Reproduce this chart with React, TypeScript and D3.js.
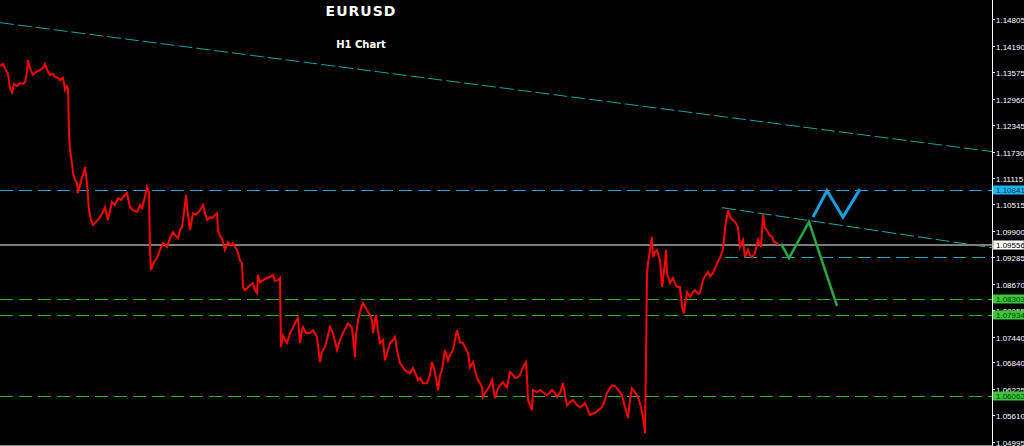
import React from "react";
import * as d3 from "d3";

// Chart data: hourly bar index and close price (EURUSD H1)
const bars = [0,3,6,8,10,12,14,17,20,23,25,27,28,30,33,36,40,43,45,48,50,53,55,58,60,63,65,67,68,69,70,72,73,75,77,78,80,82,84,85,87,89,91,93,96,100,103,105,108,110,112,115,118,121,124,127,130,133,137,140,142,145,147,149,150,151,154,157,160,163,167,170,173,176,178,180,182,184,186,188,190,193,196,200,203,205,207,210,212,215,217,218,220,222,225,228,231,233,235,237,240,242,243,245,247,250,253,255,257,258,260,263,267,270,273,275,278,280,281,283,285,287,290,293,295,298,300,302,303,306,310,313,317,320,322,325,328,330,333,337,340,343,346,348,352,355,356,358,361,363,367,370,372,373,376,378,380,383,385,388,390,393,395,397,400,403,405,408,410,413,416,418,420,423,427,430,432,435,438,440,442,445,448,450,453,455,457,460,463,465,468,470,473,475,477,480,482,483,485,487,490,492,495,498,500,503,505,507,510,513,515,518,520,523,526,527,528,530,532,533,537,540,543,547,550,552,555,557,560,563,565,567,570,573,577,580,583,585,588,590,593,595,598,602,605,607,610,612,615,617,620,622,625,628,630,632,635,637,640,643,645,646,647,648,650,652,653,655,657,660,662,663,665,666,667,670,673,675,677,680,682,684,685,687,690,693,695,698,700,703,705,708,710,713,715,717,720,723,725,728,730,733,735,738,740,743,745,748,750,752,755,758,761,763,765,768,770,772,774,777,778];
const closes = [1.1372,1.1376,1.1362,1.1353,1.1320,1.1311,1.1330,1.1325,1.1332,1.1330,1.1334,1.1358,1.1385,1.1367,1.1351,1.1358,1.1362,1.1367,1.1376,1.1358,1.1351,1.1353,1.1346,1.1344,1.1339,1.1344,1.1316,1.1325,1.1320,1.1216,1.1177,1.1146,1.1123,1.1107,1.1100,1.1077,1.1095,1.1114,1.1126,1.1137,1.1100,1.1037,1.1014,1.1003,1.1010,1.1021,1.1033,1.1044,1.1014,1.1037,1.1056,1.1049,1.1065,1.1061,1.1070,1.1077,1.1044,1.1037,1.1033,1.1049,1.1042,1.1068,1.1091,1.1077,1.0945,1.0898,1.0917,1.0926,1.0945,1.0961,1.0952,1.0972,1.0986,1.0977,1.0972,1.0991,1.0998,1.1033,1.1072,1.1026,1.0991,1.1030,1.1026,1.1037,1.1049,1.1030,1.1014,1.1021,1.1019,1.1026,1.1030,1.0991,1.0977,1.0972,1.0945,1.0963,1.0956,1.0961,1.0952,1.0945,1.0921,1.0914,1.0859,1.0852,1.0856,1.0863,1.0868,1.0852,1.0845,1.0887,1.0870,1.0875,1.0880,1.0882,1.0887,1.0873,1.0875,1.0880,1.0720,1.0747,1.0736,1.0729,1.0752,1.0764,1.0775,1.0787,1.0729,1.0759,1.0766,1.0752,1.0752,1.0759,1.0743,1.0685,1.0708,1.0720,1.0747,1.0766,1.0752,1.0713,1.0736,1.0752,1.0766,1.0775,1.0764,1.0696,1.0747,1.0782,1.0810,1.0822,1.0805,1.0794,1.0782,1.0752,1.0794,1.0759,1.0729,1.0736,1.0689,1.0713,1.0729,1.0736,1.0743,1.0713,1.0682,1.0673,1.0666,1.0662,1.0659,1.0671,1.0655,1.0643,1.0648,1.0636,1.0636,1.0655,1.0685,1.0662,1.0620,1.0655,1.0666,1.0713,1.0689,1.0701,1.0713,1.0736,1.0759,1.0731,1.0729,1.0720,1.0706,1.0673,1.0685,1.0666,1.0648,1.0636,1.0627,1.0604,1.0613,1.0620,1.0631,1.0643,1.0601,1.0624,1.0631,1.0638,1.0631,1.0627,1.0662,1.0655,1.0648,1.0650,1.0655,1.0673,1.0685,1.0650,1.0597,1.0585,1.0573,1.0620,1.0615,1.0620,1.0615,1.0608,1.0615,1.0620,1.0613,1.0604,1.0613,1.0636,1.0608,1.0585,1.0592,1.0597,1.0585,1.0580,1.0585,1.0590,1.0573,1.0562,1.0566,1.0566,1.0573,1.0580,1.0597,1.0613,1.0624,1.0631,1.0629,1.0624,1.0615,1.0608,1.0580,1.0555,1.0597,1.0624,1.0615,1.0608,1.0590,1.0557,1.0520,1.0689,1.0891,1.0914,1.0945,1.0975,1.0928,1.0940,1.0945,1.0921,1.0859,1.0875,1.0917,1.0945,1.0891,1.0868,1.0880,1.0868,1.0859,1.0859,1.0812,1.0798,1.0817,1.0847,1.0836,1.0847,1.0852,1.0843,1.0845,1.0875,1.0884,1.0894,1.0884,1.0891,1.0903,1.0914,1.0926,1.0945,1.0996,1.1037,1.1021,1.1014,1.1010,1.0998,1.0952,1.0968,1.0928,1.0945,1.0933,1.0928,1.0938,1.0968,1.0952,1.1026,1.0996,1.0986,1.0979,1.0975,1.0963,1.0961,1.0956];

const axisTicks = ["1.14805","1.14190","1.13575","1.12960","1.12345","1.11730","1.11115","1.10515","1.09900","1.09285","1.08670","1.08055","1.07440","1.06840","1.06225","1.05610","1.04995"];

const bidPrice = 1.09556;
const resistanceLevel = 1.10841;
const supportLevel = 1.09285;
const supportStartBar = 725;
const greenLevels = [1.08303, 1.07934, 1.06062];

const longTrendBars = [0, 992];
const longTrendPrices = [1.1472, 1.1173];
const shortTrendBars = [722, 992];
const shortTrendPrices = [1.1043, 1.0950];

const bearPathBars = [781, 789, 809, 837];
const bearPathPrices = [1.0959, 1.0926, 1.1010, 1.0815];
const bullPathBars = [813, 827, 843, 860];
const bullPathPrices = [1.1021, 1.1082, 1.1021, 1.1086];

const W = 1024;
const H = 446;
const AXIS_X = 992;

export default function App() {
  const x = d3.scaleLinear().domain([0, 992]).range([0, AXIS_X]);
  const y = d3.scaleLinear().domain([1.04995, 1.14805]).range([442, 19]);
  const yc = (p: number) => Math.round(y(p)) + 0.5;

  const priceLine = d3
    .line<number>()
    .x((_, i) => x(bars[i]))
    .y((d) => y(d));

  const pathOf = (bx: number[], py: number[]) =>
    d3
      .line<number>()
      .x((_, i) => x(bx[i]))
      .y((d) => y(d))(py) as string;

  const fontAxis = "'Liberation Sans', Arial, sans-serif";

  const boxLabel = (price: number, fill: string, textFill: string, key: string, stroke?: string) => {
    const cy = Math.round(y(price));
    return (
      <g key={key}>
        <rect x={AXIS_X + 1} y={cy - 4.5} width={W - AXIS_X - 1} height={9} fill={fill} stroke={stroke || "none"} strokeWidth={stroke ? 1 : 0} />
        <text x={AXIS_X + 4} y={cy + 3} fill={textFill} fontSize={8} fontFamily={fontAxis}>
          {price.toFixed(5)}
        </text>
      </g>
    );
  };

  return (
    <svg width={W} height={H} style={{ position: "absolute", left: 0, top: 0, background: "#000" }}>
      <rect x={0} y={0} width={W} height={H} fill="#000" />

      {/* long descending trendline */}
      <path d={pathOf(longTrendBars, longTrendPrices)} stroke="#17a3a6" strokeWidth={1} strokeDasharray="14,4" fill="none" />
      {/* short descending trendline */}
      <path d={pathOf(shortTrendBars, shortTrendPrices)} stroke="#1aaab3" strokeWidth={1} strokeDasharray="14,4" fill="none" />

      {/* horizontal levels */}
      <line x1={0} x2={AXIS_X} y1={yc(resistanceLevel)} y2={yc(resistanceLevel)} stroke="#1ea3e0" strokeWidth={1} strokeDasharray="13,6" />
      <line x1={0} x2={AXIS_X} y1={Math.round(y(bidPrice))} y2={Math.round(y(bidPrice))} stroke="#7c7c7c" strokeWidth={2} />
      <line x1={x(supportStartBar)} x2={AXIS_X} y1={yc(supportLevel)} y2={yc(supportLevel)} stroke="#21a6b4" strokeWidth={1} strokeDasharray="13,6" />
      {greenLevels.map((lv, i) => (
        <line key={"g" + i} x1={0} x2={AXIS_X} y1={yc(lv)} y2={yc(lv)} stroke="#22b822" strokeWidth={1} strokeDasharray="13,6" />
      ))}

      {/* price */}
      <path d={priceLine(closes) as string} stroke="#ff0000" strokeWidth={2} fill="none" strokeLinejoin="miter" />

      {/* projections */}
      <path d={pathOf(bearPathBars, bearPathPrices)} stroke="#27a843" strokeWidth={2.5} fill="none" />
      <path d={pathOf(bullPathBars, bullPathPrices)} stroke="#1a9ee2" strokeWidth={3} fill="none" />

      {/* bottom border */}
      <line x1={0} x2={AXIS_X} y1={445.5} y2={445.5} stroke="#8a8a8a" strokeWidth={1} />

      {/* axis */}
      <line x1={AXIS_X + 0.5} x2={AXIS_X + 0.5} y1={0} y2={H} stroke="#ffffff" strokeWidth={1} />
      {axisTicks.map((t) => {
        const ty = yc(parseFloat(t));
        return (
          <g key={t}>
            <line x1={AXIS_X} x2={AXIS_X + 3} y1={ty} y2={ty} stroke="#fff" strokeWidth={1} />
            <text x={AXIS_X + 4} y={ty + 3} fill="#fff" fontSize={8} fontFamily={fontAxis}>
              {t}
            </text>
          </g>
        );
      })}

      {boxLabel(resistanceLevel, "#1ab8f0", "#0a2a50", "r")}
      {boxLabel(bidPrice, "#ffffff", "#000000", "b", "#888")}
      {greenLevels.map((lv, i) => boxLabel(lv, "#3cc43c", "#0b3b0b", "gl" + i))}

      {/* titles */}
      <text x={361} y={16} textAnchor="middle" fill="#fff" fontSize={14} fontWeight="bold" letterSpacing={1} fontFamily="'DejaVu Sans', Verdana, sans-serif">
        EURUSD
      </text>
      <text x={361} y={48} textAnchor="middle" fill="#fff" fontSize={10} fontWeight="bold" fontFamily="'DejaVu Sans', Verdana, sans-serif">
        H1 Chart
      </text>
    </svg>
  );
}
